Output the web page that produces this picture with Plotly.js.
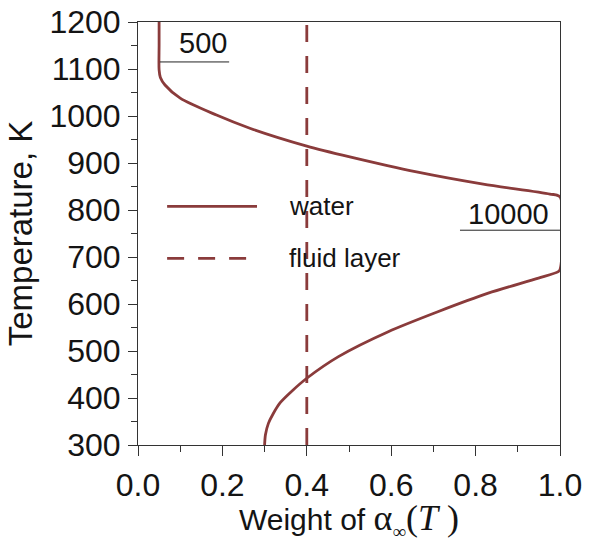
<!DOCTYPE html>
<html>
<head>
<meta charset="utf-8">
<script src="https://cdn.plot.ly/plotly-3.0.1.min.js"></script>
<style>html,body{margin:0;padding:0;background:#fff;}#chart{width:595px;height:542px;}</style>
</head>
<body>
<div id="chart"></div>
<script>
// Water weight curve: weight (x) vs temperature (y)
const waterWeight = [0.05, 0.05, 0.05, 0.053, 0.064, 0.10, 0.186, 0.265, 0.40, 0.502, 0.66, 0.818, 0.976, 1.0, 1.0, 0.996, 0.949, 0.83, 0.712, 0.593, 0.475, 0.40, 0.365, 0.337, 0.320, 0.309, 0.302, 0.30];
const waterTemp   = [1200, 1150, 1098, 1082, 1066, 1038, 1002, 974, 936, 913, 881, 855, 834, 828, 673, 669, 655, 623, 584, 541, 488, 442, 415, 390, 366, 346, 322, 300];
// Fluid layer: constant weight
const fluidWeight = [0.4, 0.4];
const fluidTemp   = [300, 1200];
// Ticks
const yTicks = [300, 400, 500, 600, 700, 800, 900, 1000, 1100, 1200];
const xTicks = [0.0, 0.2, 0.4, 0.6, 0.8, 1.0];
const xTickText = ['0.0', '0.2', '0.4', '0.6', '0.8', '1.0'];
// Labels
const seriesNames = ['water', 'fluid layer'];
const curveLabels = ['500', '10000'];

const lineColor = '#8a3b3b';
const font = 'Liberation Sans, Arial, sans-serif';
const ink = '#141414';

const traces = [
  {x: waterWeight, y: waterTemp, mode: 'lines', name: seriesNames[0],
   line: {color: lineColor, width: 2.8, shape: 'spline', smoothing: 0.8}, hoverinfo: 'skip'},
  {x: fluidWeight, y: fluidTemp, mode: 'lines', name: seriesNames[1],
   line: {color: lineColor, width: 2.8, dash: '17px,14px'}, hoverinfo: 'skip'}
];

const layout = {
  width: 595, height: 542,
  margin: {l: 138, r: 35, t: 22, b: 97},
  paper_bgcolor: '#fff', plot_bgcolor: '#fff',
  showlegend: false,
  font: {family: font, color: ink},
  xaxis: {
    range: [0, 1], tickvals: xTicks, ticktext: xTickText,
    ticks: 'outside', ticklen: 10, tickwidth: 1, tickcolor: '#333',
    minor: {dtick: 0.1, tick0: 0, ticks: 'outside', ticklen: 6, tickcolor: '#333', showgrid: false},
    showline: true, linecolor: '#333', linewidth: 1, mirror: true,
    showgrid: false, zeroline: false,
    tickfont: {size: 32, family: font, color: ink},
    ticklabelstandoff: 2,
    title: {text: 'Weight of <span style="font-family:\'Liberation Serif\',serif;font-size:36px">α<sub><span style="font-size:19px">∞</span></sub>(<i>T</i> )</span>',
            font: {size: 30, family: font, color: ink}, standoff: 0}
  },
  yaxis: {
    range: [300, 1200], tickvals: yTicks,
    ticks: 'outside', ticklen: 9, tickwidth: 1, tickcolor: '#333',
    minor: {dtick: 50, tick0: 300, ticks: 'outside', ticklen: 6, tickcolor: '#333', showgrid: false},
    showline: true, linecolor: '#333', linewidth: 1, mirror: true,
    showgrid: false, zeroline: false,
    tickfont: {size: 32, family: font, color: ink},
    ticklabelstandoff: 1,
    title: {text: 'Temperature, K', font: {size: 33, family: font, color: ink}, standoff: 6}
  },
  shapes: [
    // curve label underlines
    {type: 'line', xref: 'x', yref: 'y', x0: 0.052, x1: 0.216, y0: 1115, y1: 1115, line: {color: '#222', width: 1}},
    {type: 'line', xref: 'x', yref: 'y', x0: 0.763, x1: 1.0, y0: 757, y1: 757, line: {color: '#222', width: 1}},
    // legend samples
    {type: 'line', xref: 'paper', yref: 'paper', x0: 0.069, x1: 0.282, y0: 0.564, y1: 0.564, line: {color: lineColor, width: 2.8}},
    {type: 'line', xref: 'paper', yref: 'paper', x0: 0.069, x1: 0.282, y0: 0.441, y1: 0.441, line: {color: lineColor, width: 2.8, dash: '17px,14px'}}
  ],
  annotations: [
    {xref: 'x', yref: 'y', x: 0.154, y: 1155, text: curveLabels[0], showarrow: false,
     xanchor: 'center', yanchor: 'middle', font: {size: 29, family: font, color: ink}},
    {xref: 'x', yref: 'y', x: 0.877, y: 791, text: curveLabels[1], showarrow: false,
     xanchor: 'center', yanchor: 'middle', font: {size: 29, family: font, color: ink}},
    {xref: 'paper', yref: 'paper', x: 0.353, y: 0.564, text: seriesNames[0], showarrow: false,
     xanchor: 'left', yanchor: 'middle', font: {size: 26, family: font, color: ink}},
    {xref: 'paper', yref: 'paper', x: 0.353, y: 0.441, text: seriesNames[1], showarrow: false,
     xanchor: 'left', yanchor: 'middle', font: {size: 26, family: font, color: ink}}
  ]
};

Plotly.newPlot('chart', traces, layout, {staticPlot: true, displayModeBar: false});
</script>
</body>
</html>
